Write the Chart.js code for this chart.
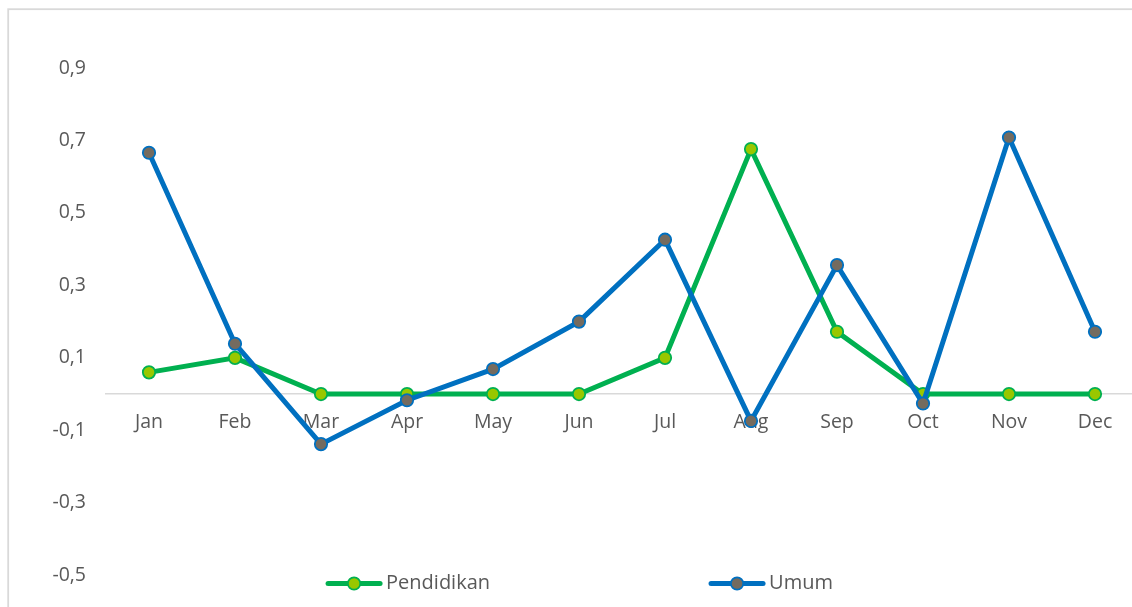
<!DOCTYPE html>
<html>
<head>
<meta charset="utf-8">
<script src="https://cdn.jsdelivr.net/npm/chart.js@4.4.1/dist/chart.umd.min.js"></script>
<style>
  html, body { margin: 0; padding: 0; background: #ffffff; overflow: hidden; width: 1132px; height: 607px; }
  #wrap { position: absolute; left: 0; top: 0; width: 1146px; height: 607px; }
</style>
</head>
<body>
<div id="wrap"><canvas id="c" width="1146" height="607"></canvas></div>
<script>
const categories = ['Jan', 'Feb', 'Mar', 'Apr', 'May', 'Jun', 'Jul', 'Aug', 'Sep', 'Oct', 'Nov', 'Dec'];
const pendidikan = [0.06, 0.1, 0, 0, 0, 0, 0.1, 0.676, 0.172, 0, 0, 0];
const umum = [0.666, 0.139, -0.138, -0.017, 0.069, 0.2, 0.426, -0.074, 0.356, -0.026, 0.708, 0.172];
const yTicks = [-0.5, -0.3, -0.1, 0.1, 0.3, 0.5, 0.7, 0.9];
const seriesNames = ['Pendidikan', 'Umum'];

const TEXT = '#595959';
const FONT = 'Open Sans';

const frame = {
  id: 'frame',
  beforeDraw(chart) {
    const ctx = chart.ctx;
    ctx.save();
    ctx.fillStyle = '#ffffff';
    ctx.fillRect(0, 0, chart.width, chart.height);
    ctx.strokeStyle = '#D9D9D9';
    ctx.lineWidth = 1.8;
    ctx.strokeRect(8.2, 9.2, 1400, 900);
    ctx.restore();
  }
};

const bottomLegend = {
  id: 'bottomLegend',
  afterDraw(chart) {
    const ctx = chart.ctx;
    const ds = chart.data.datasets;
    const lineLen = 56, gapText = 4, itemGap = 219, cy = 583.5, centerX = 579.5;
    ctx.save();
    ctx.font = '20px "' + FONT + '"';
    const widths = ds.map(d => lineLen + gapText + ctx.measureText(d.label).width);
    const total = widths.reduce((a, b) => a + b, 0) + itemGap * (ds.length - 1);
    let x = centerX - total / 2;
    ds.forEach((d, i) => {
      ctx.strokeStyle = d.borderColor;
      ctx.lineWidth = 5;
      ctx.lineCap = 'round';
      ctx.beginPath();
      ctx.moveTo(x + 2, cy);
      ctx.lineTo(x + lineLen - 2, cy);
      ctx.stroke();
      ctx.beginPath();
      ctx.arc(x + lineLen / 2, cy, d.pointRadius, 0, Math.PI * 2);
      ctx.fillStyle = d.pointBackgroundColor;
      ctx.fill();
      ctx.lineWidth = d.pointBorderWidth;
      ctx.strokeStyle = d.pointBorderColor;
      ctx.stroke();
      ctx.fillStyle = TEXT;
      ctx.textBaseline = 'middle';
      ctx.textAlign = 'left';
      ctx.fillText(d.label, x + lineLen + gapText, cy);
      x += widths[i] + itemGap;
    });
    ctx.restore();
  }
};

new Chart(document.getElementById('c'), {
  type: 'line',
  data: {
    labels: categories,
    datasets: [
      {
        label: seriesNames[0],
        data: pendidikan,
        order: 1,
        borderColor: '#00B050',
        borderWidth: 5,
        pointBackgroundColor: '#99C700',
        pointBorderColor: '#00B050',
        pointBorderWidth: 1.8,
        pointRadius: 6.2,
        tension: 0,
        fill: false
      },
      {
        label: seriesNames[1],
        data: umum,
        order: 0,
        borderColor: '#0070C0',
        borderWidth: 5,
        pointBackgroundColor: '#746B5F',
        pointBorderColor: '#0070C0',
        pointBorderWidth: 1.8,
        pointRadius: 6.2,
        tension: 0,
        fill: false
      }
    ]
  },
  options: {
    responsive: false,
    animation: false,
    devicePixelRatio: 1,
    layout: { padding: { left: 0, right: 8, top: 29, bottom: 31 } },
    plugins: {
      legend: { display: false },
      tooltip: { enabled: false }
    },
    scales: {
      x: {
        type: 'category',
        offset: true,
        position: { y: 0 },
        grid: { display: false, drawTicks: false, tickLength: 0 },
        border: { display: true, color: '#D9D9D9', width: 1.6 },
        ticks: {
          color: TEXT,
          font: { family: FONT, size: 19.5 },
          padding: 17,
          maxRotation: 0,
          autoSkip: false
        }
      },
      y: {
        type: 'linear',
        min: -0.5,
        max: 1.0,
        grid: { display: false, drawTicks: false },
        border: { display: false },
        afterBuildTicks(scale) {
          scale.ticks = yTicks.map(v => ({ value: v }));
        },
        afterFit(scale) {
          scale.width = 106;
        },
        ticks: {
          color: TEXT,
          font: { family: FONT, size: 19.5 },
          padding: 20,
          callback: v => Number(v).toFixed(1).replace('.', ',')
        }
      }
    }
  },
  plugins: [frame, bottomLegend]
});
</script>
</body>
</html>
